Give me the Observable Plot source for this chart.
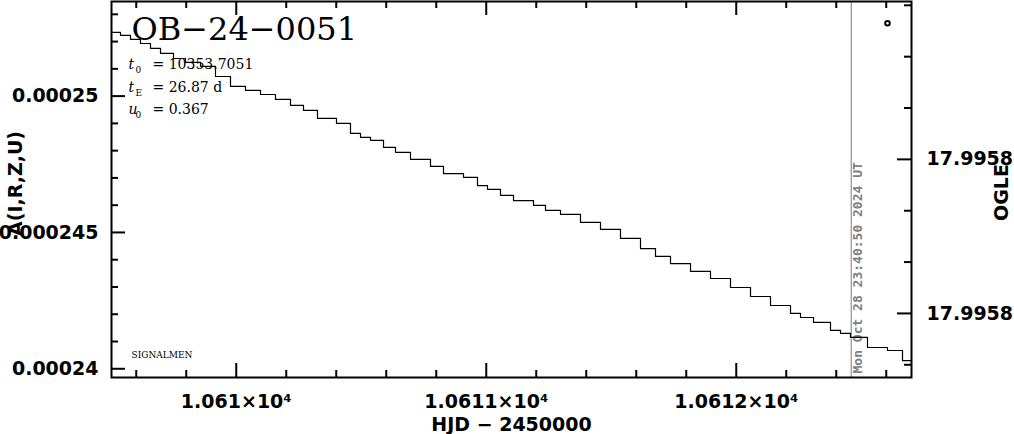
<!DOCTYPE html>
<html><head><meta charset="utf-8">
<script src="https://cdn.jsdelivr.net/npm/d3@7"></script>
<script src="https://cdn.jsdelivr.net/npm/@observablehq/plot@0.6"></script>
<style>body{margin:0;background:#fff} svg{display:block}</style>
</head><body><div id="chart"></div>
<script>
// ---- data ----
const hjd = [10609.501,10609.537,10609.577,10609.617,10609.657,10609.697,10609.749,10609.797,10609.857,10609.917,
  10609.977,10610.037,10610.097,10610.157,10610.217,10610.269,10610.325,10610.401,10610.457,10610.497,
  10610.537,10610.589,10610.637,10610.697,10610.777,10610.829,10610.909,10610.965,10611.005,10611.057,
  10611.109,10611.189,10611.237,10611.297,10611.377,10611.457,10611.537,10611.617,10611.677,10611.737,
  10611.817,10611.897,10611.977,10612.057,10612.137,10612.217,10612.257,10612.309,10612.377,10612.417,
  10612.457,10612.525,10612.605,10612.665,10612.701];
const flux = [0.00025234,0.00025223,0.00025208,0.00025193,0.00025175,0.00025157,0.00025138,0.00025124,0.00025109,0.00025072,
  0.00025036,0.00025021,0.00025006,0.00024988,0.00024966,0.00024948,0.00024918,0.00024900,0.00024863,0.00024849,
  0.00024838,0.00024812,0.00024794,0.00024768,0.00024742,0.00024716,0.00024702,0.00024672,0.00024658,0.00024636,
  0.00024617,0.00024599,0.00024581,0.00024566,0.00024537,0.00024511,0.00024478,0.00024441,0.00024412,0.00024386,
  0.00024357,0.00024331,0.00024298,0.00024265,0.00024232,0.00024203,0.00024188,0.00024170,0.00024141,0.00024130,
  0.00024115,0.00024078,0.00024067,0.00024030,0.00024030];

const xDomain = [10609.501, 10612.701];
const yDomain = [0.00023968, 0.00025347];
const xMajorTicks = [10610, 10611, 10612];
const xMinorTicks = [10609.6,10609.8,10610.2,10610.4,10610.6,10610.8,10611.2,10611.4,10611.6,10611.8,10612.2,10612.4,10612.6];
const yMajorTicks = [0.00024, 0.000245, 0.00025];
const yMinorTicks = [0.000241,0.000242,0.000243,0.000244,0.000246,0.000247,0.000248,0.000249,0.000251,0.000252,0.000253];
const ogleMajorTicks = [17.99579, 17.99582];
const ogleMinorTicks = [17.99576, 17.99577, 17.99578, 17.99580, 17.99581, 17.99583];
const ogleAnchorMag = [17.99579, 17.99582];
const ogleAnchorFlux = [0.00024768, 0.00024203];
const oglePoints = [{hjd: 10612.605, mag: 17.9957635}];
const eventDate = [10612.46];
const eventLabel = "Mon Oct 28 23:40:50 2024 UT";
const title = "OB−24−0051";
const paramSymbols = "t\nt\nu";
const paramSubscripts = "0\nE\n0";
const paramValues = "= 10353.7051\n= 26.87 d\n= 0.367";
const xLabel = "HJD − 2450000";
const yLabel = "A(I,R,Z,U)";
const y2Label = "OGLE";
const source = "SIGNALMEN";

// ---- helpers ----
const toFlux = m => ogleAnchorFlux[0] + (m - ogleAnchorMag[0]) * (ogleAnchorFlux[1] - ogleAnchorFlux[0]) / (ogleAnchorMag[1] - ogleAnchorMag[0]);
const toMag = f => ogleAnchorMag[0] + (f - ogleAnchorFlux[0]) * (ogleAnchorMag[1] - ogleAnchorMag[0]) / (ogleAnchorFlux[1] - ogleAnchorFlux[0]);

const W = 1014, H = 434, mT = 1, mB = 57, mL = 111, mR = 103;
const fw = W - mL - mR, fh = H - mT - mB;
const big = 14, small = 7;
const tickFont = {fontFamily: "DejaVu Sans", fontSize: 19, fontWeight: "bold"};

const chart = Plot.plot({
  width: W, height: H,
  marginTop: mT, marginBottom: mB, marginLeft: mL, marginRight: mR,
  style: {background: "white", color: "black"},
  x: {domain: xDomain, axis: null},
  y: {domain: yDomain, axis: null},
  marks: [
    // event marker line
    Plot.ruleX(eventDate, {stroke: "#999", strokeWidth: 1.3}),
    Plot.text([eventLabel], {x: eventDate, frameAnchor: "bottom", rotate: -90, textAnchor: "start", lineAnchor: "middle",
      dx: 7, dy: -4, fill: "#808080", fontFamily: "DejaVu Sans Mono", fontWeight: "bold", fontSize: 13}),
    // light curve
    Plot.line({length: hjd.length}, {x: hjd, y: flux, curve: "step-after", stroke: "black", strokeWidth: 1.2}),
    Plot.dot(oglePoints, {x: "hjd", y: d => toFlux(d.mag), r: 2.3, stroke: "black", strokeWidth: 2, fill: "white"}),
    // frame
    Plot.frame({stroke: "black", strokeWidth: 2}),
    // inward ticks bottom/top
    Plot.ruleX(xMajorTicks, {insetTop: fh - big, strokeWidth: 2}),
    Plot.ruleX(xMinorTicks, {insetTop: fh - small, strokeWidth: 2}),
    Plot.ruleX(xMajorTicks, {insetBottom: fh - big, strokeWidth: 2}),
    Plot.ruleX(xMinorTicks, {insetBottom: fh - small, strokeWidth: 2}),
    // left ticks
    Plot.ruleY(yMajorTicks, {insetRight: fw - big, strokeWidth: 2}),
    Plot.ruleY(yMinorTicks, {insetRight: fw - small, strokeWidth: 2}),
    // right (OGLE) ticks
    Plot.ruleY(ogleMajorTicks.map(toFlux), {insetLeft: fw - big, strokeWidth: 2}),
    Plot.ruleY(ogleMinorTicks.map(toFlux), {insetLeft: fw - small, strokeWidth: 2}),
    // tick labels
    Plot.axisX(xMajorTicks, {anchor: "bottom", tickSize: 0, tickPadding: 17, label: null,
      tickFormat: d => `${d / 1e4}×10⁴`, ...tickFont}),
    Plot.axisY(yMajorTicks, {anchor: "left", tickSize: 0, tickPadding: 13, label: null,
      tickFormat: d => String(d), ...tickFont}),
    Plot.axisY(ogleMajorTicks.map(toFlux), {anchor: "right", tickSize: 0, tickPadding: 15, label: null,
      tickFormat: f => toMag(f).toFixed(4), ...tickFont}),
    // axis titles
    Plot.text([xLabel], {frameAnchor: "bottom", textAnchor: "middle", lineAnchor: "middle", dy: 47, ...tickFont}),
    Plot.text([yLabel], {frameAnchor: "left", textAnchor: "middle", lineAnchor: "middle", dx: -96, dy: -6, rotate: -90, ...tickFont}),
    Plot.text([y2Label], {frameAnchor: "right", textAnchor: "middle", lineAnchor: "middle", dx: 90, dy: 3, rotate: -90, ...tickFont}),
    // annotations
    Plot.text([title], {frameAnchor: "top-left", textAnchor: "start", lineAnchor: "middle", dx: 20, dy: 28,
      fontFamily: "DejaVu Serif", fontSize: 32, letterSpacing: 2}),
    Plot.text([paramSymbols], {frameAnchor: "top-left", textAnchor: "start", lineAnchor: "middle", dx: 17, dy: 83, lineHeight: 1.6,
      fontFamily: "DejaVu Serif", fontStyle: "italic", fontSize: 14}),
    Plot.text([paramSubscripts], {frameAnchor: "top-left", textAnchor: "start", lineAnchor: "middle", dx: 24, dy: 87, lineHeight: 2.5,
      fontFamily: "DejaVu Serif", fontSize: 9}),
    Plot.text([paramValues], {frameAnchor: "top-left", textAnchor: "start", lineAnchor: "middle", dx: 41, dy: 83, lineHeight: 1.6,
      fontFamily: "DejaVu Serif", fontSize: 14}),
    Plot.text([source], {frameAnchor: "bottom-left", textAnchor: "start", lineAnchor: "middle", dx: 20, dy: -22,
      fontFamily: "DejaVu Serif", fontSize: 9})
  ]
});
document.getElementById("chart").appendChild(chart);
</script>
</body></html>
